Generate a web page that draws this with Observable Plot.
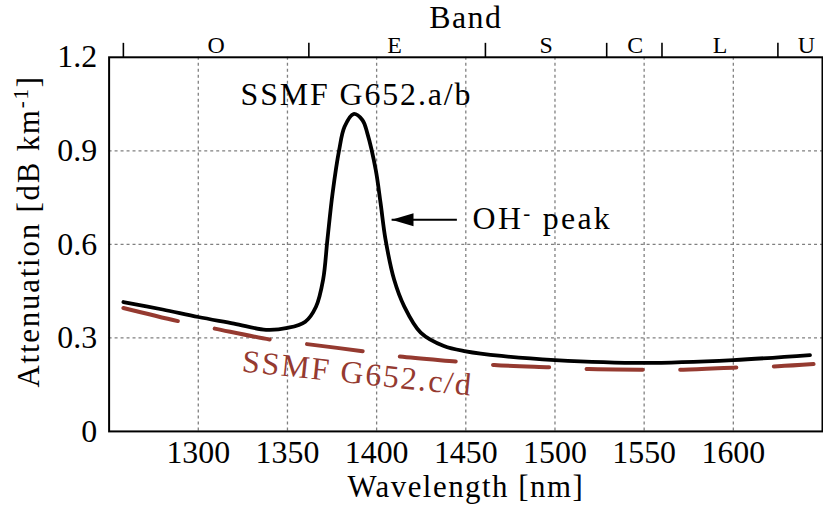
<!DOCTYPE html>
<html><head><meta charset="utf-8">
<script src="https://cdn.jsdelivr.net/npm/d3@7"></script>
<script src="https://cdn.jsdelivr.net/npm/@observablehq/plot@0.6"></script>
<style>
html,body{margin:0;padding:0;background:#fff;overflow:hidden;}
#chart svg, #chart svg text { font-family: "Liberation Serif", serif !important; }
</style></head><body><div id="chart"></div>
<script>
// SSMF G652.a/b (with OH- peak)
const wavelengthAB = [1258,1280,1300,1320,1338,1350,1360,1366,1370,1372.4,1375.3,1379,1382,1387,1392,1394.8,1399.5,1402.2,1405,1409.8,1415.4,1424.7,1437.7,1450,1470,1500,1550,1600,1643];
const attenAB      = [0.415,0.391,0.367,0.346,0.326,0.332,0.352,0.40,0.487,0.615,0.764,0.903,0.977,1.018,0.999,0.956,0.839,0.733,0.615,0.487,0.402,0.317,0.274,0.257,0.242,0.229,0.220,0.229,0.245];
// SSMF G652.c/d (low water peak)
const wavelengthCD = [1258,1290,1309,1342,1361,1395,1413,1447,1466,1500,1519,1552,1572,1605,1625,1645];
const attenCD      = [0.396,0.352,0.330,0.293,0.280,0.255,0.240,0.223,0.213,0.205,0.200,0.198,0.198,0.206,0.209,0.216];

const xTicks = [1300,1350,1400,1450,1500,1550,1600];
const yTicks = [0,0.3,0.6,0.9,1.2];
const yGrid = [0.3,0.6,0.9];
const bandEdges = [1258,1362,1461,1529,1560,1625];
const bandNames = ["O","E","S","C","L","U"];
const bandCenters = [1310,1410,1495,1545,1592.5,1641];

const labelAB = {text:"SSMF G652.a/b", w:1388.7, a:1.079};
const labelCD = {text:"SSMF G652.c/d", w:1389.3, a:0.186, rotate:6};
const labelOH = {text:"OH- peak", w:1453.8, a:0.683};
const arrowOH = {w1:1445, w2:1408.4, a:0.679};

const red = "#953a30";
const ab = wavelengthAB.map((w,i)=>({w, a:attenAB[i]}));
const cd = wavelengthCD.map((w,i)=>({w, a:attenCD[i]}));
const bands = bandNames.map((n,i)=>({n, w:bandCenters[i]}));

const leftTriangle = {draw(ctx){ ctx.moveTo(0,0); ctx.lineTo(22,-6.5); ctx.lineTo(22,6.5); ctx.closePath(); }};
const grid = {stroke:"#808080", strokeOpacity:1, strokeWidth:1.3, strokeDasharray:"3,3"};

const chart = Plot.plot({
  width: 826, height: 513,
  marginLeft: 109, marginRight: 1, marginTop: 57, marginBottom: 80.5,
  style: {fontFamily:"'Liberation Serif', serif", fontSize:"32px", background:"#fff", color:"#000"},
  x: {domain:[1250,1650], label:null},
  y: {domain:[0,1.2], label:null},
  marks: [
    Plot.gridX(xTicks, grid),
    Plot.gridY(yGrid, grid),
    Plot.axisX(xTicks, {anchor:"bottom", tickSize:0, tickPadding:9, fontSize:32, label:null, tickFormat:d=>String(d)}),
    Plot.axisY(yTicks, {anchor:"left", tickSize:0, tickPadding:12, fontSize:32, label:null, tickFormat:d=>d===0?"0":d.toFixed(1)}),
    Plot.axisX(bandEdges, {anchor:"top", tickSize:15, strokeWidth:1.6, tickFormat:()=>"", label:null}),
    Plot.text(bands, {x:"w", text:"n", frameAnchor:"top", lineAnchor:"middle", dy:-11.5, fontSize:24}),
    Plot.text(["Band"], {text:d=>d, frameAnchor:"top", lineAnchor:"middle", textAnchor:"middle", dy:-40, fontSize:32}),
    Plot.text(["Wavelength [nm]"], {text:d=>d, frameAnchor:"bottom", lineAnchor:"middle", textAnchor:"middle", dy:55.5, fontSize:31}),
    Plot.text(["Attenuation [dB km-1]"], {text:d=>d, frameAnchor:"left", lineAnchor:"middle", textAnchor:"middle", rotate:-90, dx:-80.6, dy:-13, fontSize:31}),
    Plot.line(cd, {x:"w", y:"a", curve:"catmull-rom", stroke:red, strokeWidth:4, strokeDasharray:"56,38", strokeLinecap:"round"}),
    Plot.line(ab, {x:"w", y:"a", curve:"catmull-rom", stroke:"#000", strokeWidth:3.8, strokeLinecap:"round"}),
    Plot.link([arrowOH], {x1:"w1", x2:"w2", y1:"a", y2:"a", stroke:"#000", strokeWidth:2}),
    Plot.dot([arrowOH], {x:"w2", y:"a", symbol:leftTriangle, fill:"#000", stroke:"none"}),
    Plot.text([labelAB], {x:"w", y:"a", text:"text", fontSize:32}),
    Plot.text([labelCD], {x:"w", y:"a", text:"text", rotate:labelCD.rotate, fontSize:32, fill:red}),
    Plot.text([labelOH], {x:"w", y:"a", text:"text", textAnchor:"start", fontSize:32}),
    Plot.frame({stroke:"#000", strokeWidth:2})
  ]
});
document.getElementById("chart").appendChild(chart);

// letter spacing to approximate the wider Computer Modern look
const spacing = {"SSMF G652.a/b":1.9, "SSMF G652.c/d":1.9, "OH- peak":2.3, "Wavelength [nm]":1.5, "Attenuation [dB km-1]":1.8, "Band":1.4};
d3.select(chart).selectAll("text").each(function() {
  const s = spacing[this.textContent];
  if (s != null) this.setAttribute("letter-spacing", s);
});

// superscripts
function supify(match, before, sup, after, shift) {
  d3.select(chart).selectAll("text").each(function() {
    if (this.textContent !== match) return;
    const t = d3.select(this);
    t.text(null);
    t.append("tspan").text(before);
    t.append("tspan").attr("dy", -shift).attr("font-size", 21).text(sup);
    t.append("tspan").attr("dy", shift).text(after);
  });
}
supify("OH- peak", "OH", "-", " peak", 9);
supify("Attenuation [dB km-1]", "Attenuation [dB km", "-1", "]", 11);
</script></body></html>
